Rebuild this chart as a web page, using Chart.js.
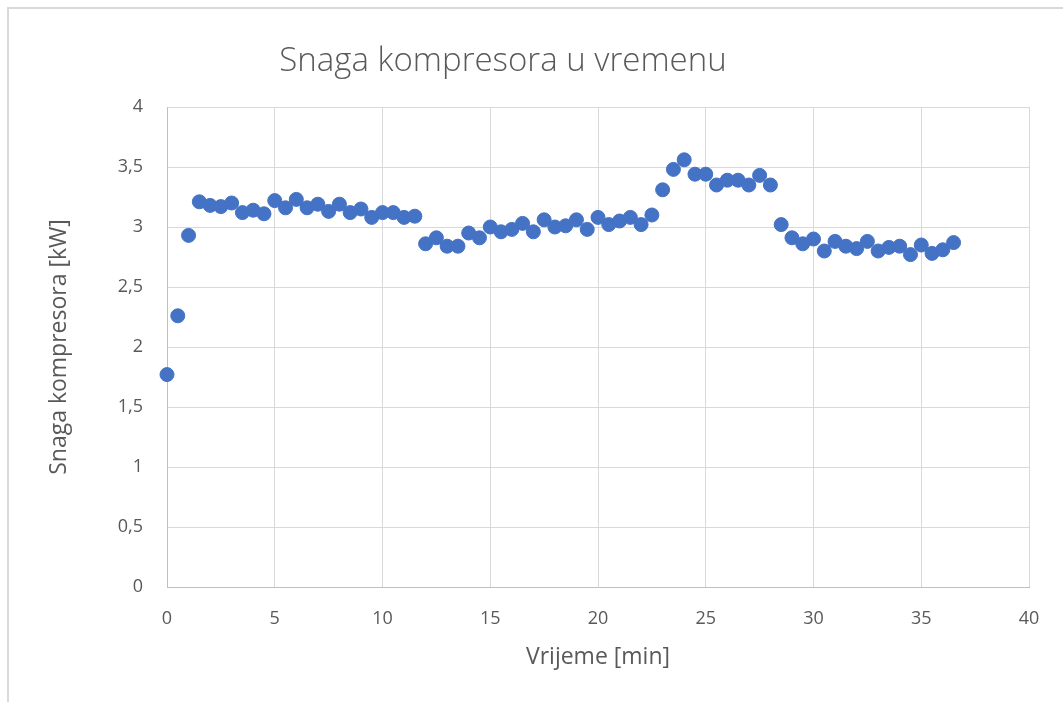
<!DOCTYPE html>
<html>
<head>
<meta charset="utf-8">
<script src="https://cdn.jsdelivr.net/npm/chart.js"></script>
<style>
html,body{margin:0;padding:0;background:#fff;}
#wrap{width:1063px;height:702px;position:relative;}
</style>
</head>
<body>
<div id="wrap"><canvas id="c" width="1063" height="702"></canvas></div>
<script>
const chartTitle = "Snaga kompresora u vremenu";
const xAxisTitle = "Vrijeme [min]";
const yAxisTitle = "Snaga kompresora [kW]";
const timeMin = [0,0.5,1,1.5,2,2.5,3,3.5,4,4.5,5,5.5,6,6.5,7,7.5,8,8.5,9,9.5,10,10.5,11,11.5,12,12.5,13,13.5,14,14.5,15,15.5,16,16.5,17,17.5,18,18.5,19,19.5,20,20.5,21,21.5,22,22.5,23,23.5,24,24.5,25,25.5,26,26.5,27,27.5,28,28.5,29,29.5,30,30.5,31,31.5,32,32.5,33,33.5,34,34.5,35,35.5,36,36.5];
const powerKW = [1.77,2.26,2.93,3.21,3.18,3.17,3.20,3.12,3.14,3.11,3.22,3.16,3.23,3.16,3.19,3.13,3.19,3.12,3.15,3.08,3.12,3.12,3.08,3.09,2.86,2.91,2.84,2.84,2.95,2.91,3.00,2.96,2.98,3.03,2.96,3.06,3.00,3.01,3.06,2.98,3.08,3.02,3.05,3.08,3.02,3.10,3.31,3.48,3.56,3.44,3.44,3.35,3.39,3.39,3.35,3.43,3.35,3.02,2.91,2.86,2.90,2.80,2.88,2.84,2.82,2.88,2.80,2.83,2.84,2.77,2.85,2.78,2.81,2.87];
const xTicks = [0,5,10,15,20,25,30,35,40];
const yTicks = [0,0.5,1,1.5,2,2.5,3,3.5,4];

const points = timeMin.map((t,i)=>({x:t,y:powerKW[i]}));

const decor = {
  id:'decor',
  beforeDraw(chart){
    const ctx = chart.ctx;
    ctx.save();
    ctx.fillStyle='#fff';
    ctx.fillRect(0,0,chart.width,chart.height);
    ctx.strokeStyle='#d9d9d9';
    ctx.lineWidth=2;
    ctx.beginPath();
    ctx.moveTo(8,chart.height);
    ctx.lineTo(8,8);
    ctx.lineTo(chart.width,8);
    ctx.stroke();
    ctx.restore();
  },
  afterDraw(chart){
    const ctx = chart.ctx;
    ctx.save();
    ctx.fillStyle='#595959';
    ctx.font='300 33px "Open Sans"';
    ctx.textAlign='center';
    ctx.textBaseline='middle';
    ctx.fillText(chartTitle,503,62);
    ctx.restore();
  }
};

new Chart(document.getElementById('c'),{
  type:'scatter',
  data:{datasets:[{
    data:points,
    backgroundColor:'#4472c4',
    borderColor:'#4472c4',
    borderWidth:1,
    pointRadius:7,
    pointHoverRadius:7,
    clip:false
  }]},
  options:{
    responsive:false,
    animation:false,
    devicePixelRatio:1,
    layout:{padding:{top:107,right:34,bottom:0,left:0}},
    plugins:{legend:{display:false},tooltip:{enabled:false},title:{display:false}},
    scales:{
      x:{
        type:'linear',min:0,max:40,
        afterBuildTicks(s){s.ticks = xTicks.map(v=>({value:v}));},
        afterFit(s){s.height=115;},
        grid:{color:'#d9d9d9',lineWidth:1,drawTicks:false},
        border:{color:'#bfbfbf',width:1},
        ticks:{padding:21,color:'#595959',font:{family:'"Open Sans"',size:18},maxRotation:0,
          callback:(v)=>String(v)},
        title:{display:true,text:xAxisTitle,color:'#595959',font:{family:'"Open Sans"',size:23},padding:{top:0,bottom:31}}
      },
      y:{
        type:'linear',min:0,max:4,
        afterBuildTicks(s){s.ticks = yTicks.map(v=>({value:v}));},
        afterFit(s){s.width=167;},
        grid:{color:'#d9d9d9',lineWidth:1,drawTicks:false},
        border:{color:'#bfbfbf',width:1},
        ticks:{padding:24,color:'#595959',font:{family:'"Open Sans"',size:18},
          callback:(v)=>String(v).replace('.',',')},
        title:{display:true,text:yAxisTitle,color:'#595959',font:{family:'"Open Sans"',size:23},padding:{top:46,bottom:0}}
      }
    }
  },
  plugins:[decor]
});
</script>
</body>
</html>
